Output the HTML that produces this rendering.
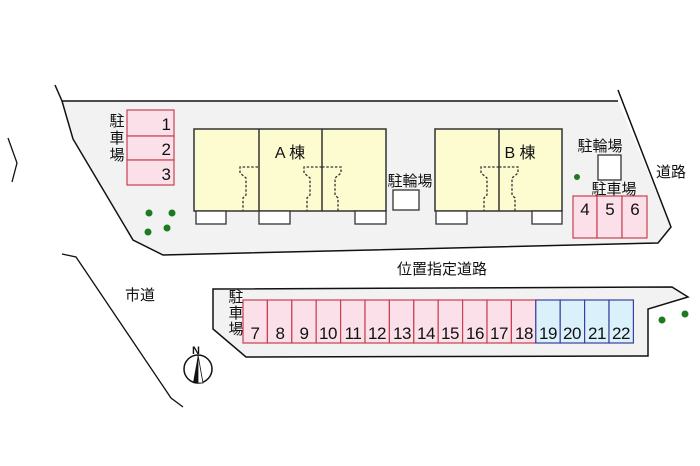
<!DOCTYPE html>
<html><head><meta charset="utf-8"><style>
html,body{margin:0;padding:0;background:#fff;width:700px;height:466px;overflow:hidden}
text{font-family:"Liberation Sans","Noto Sans CJK JP",sans-serif;fill:#111}
</style></head><body>
<svg width="700" height="466" viewBox="0 0 700 466" xmlns="http://www.w3.org/2000/svg">
<polygon points="62,101 618,101 671,227 658,243 163,255 133,240 73,139" fill="#f2f2f2" stroke="none"/>
<polyline points="55,85 62,101 73,139 133,240 163,255 658,243 671,227 618,90" fill="none" stroke="#111" stroke-width="1.5"/>
<line x1="62" y1="101" x2="618" y2="101" stroke="#111" stroke-width="1.5"/>
<polyline points="8,138 17,163 12,182" fill="none" stroke="#111" stroke-width="1.3"/>
<polyline points="62,254 76,257 171,398 183,407" fill="none" stroke="#111" stroke-width="1.3"/>
<g fill="#fbe0ea" stroke="#c8404f" stroke-width="1.2">
<rect x="127" y="110" width="47" height="26"/><rect x="127" y="136" width="47" height="24"/><rect x="127" y="160" width="47" height="25"/>
</g>
<g font-size="17" text-anchor="end"><text x="171" y="130">1</text><text x="171" y="155">2</text><text x="171" y="180">3</text></g>
<g font-size="15" text-anchor="middle"><text x="117" y="126">駐</text><text x="117" y="143">車</text><text x="117" y="160">場</text></g>
<g fill="#1e7a1e"><circle cx="149" cy="213" r="3.5"/><circle cx="172" cy="213" r="3.5"/><circle cx="148" cy="232" r="3.5"/><circle cx="167" cy="228" r="3.5"/><circle cx="577" cy="177" r="3"/><circle cx="662" cy="320" r="3.5"/><circle cx="685" cy="314" r="3.5"/></g>
<rect x="194" y="129" width="192" height="82" fill="#fdfbd0" stroke="#333" stroke-width="1.5"/>
<line x1="259" y1="129" x2="259" y2="211" stroke="#333" stroke-width="1.5"/>
<line x1="322" y1="129" x2="322" y2="211" stroke="#333" stroke-width="1.5"/>
<g fill="#fff" stroke="#333" stroke-width="1.3"><rect x="196" y="211" width="30" height="13"/><rect x="259" y="211" width="31" height="13"/><rect x="355" y="211" width="31" height="13"/></g>
<g fill="none" stroke="#333" stroke-width="1.3" stroke-dasharray="2.5,1.8">
<polyline points="258,167 240,167 240,173 246,178 246,195 243,198 243,211"/>
<polyline points="322,167 304,167 304,173 310,178 310,195 307,198 307,211"/>
<polyline points="322,167 341,167 341,173 335,178 335,195 338,198 338,211"/>
</g>
<text x="290" y="158" font-size="16" text-anchor="middle">A 棟</text>
<text x="410" y="186" font-size="15" text-anchor="middle">駐輪場</text>
<rect x="393" y="190" width="26" height="20" fill="#fff" stroke="#333" stroke-width="1.3"/>
<rect x="435" y="129" width="127" height="82" fill="#fdfbd0" stroke="#333" stroke-width="1.5"/>
<line x1="499" y1="129" x2="499" y2="211" stroke="#333" stroke-width="1.5"/>
<g fill="#fff" stroke="#333" stroke-width="1.3"><rect x="436" y="211" width="31" height="13"/><rect x="532" y="211" width="30" height="13"/></g>
<g fill="none" stroke="#333" stroke-width="1.3" stroke-dasharray="2.5,1.8">
<polyline points="499,167 481,167 481,173 487,178 487,195 484,198 484,211"/>
<polyline points="499,167 518,167 518,173 512,178 512,195 515,198 515,211"/>
</g>
<text x="520" y="158" font-size="16" text-anchor="middle">B 棟</text>
<text x="600" y="151" font-size="15" text-anchor="middle">駐輪場</text>
<rect x="598" y="155" width="23" height="25" fill="#fff" stroke="#333" stroke-width="1.3"/>
<text x="614" y="194" font-size="15" text-anchor="middle">駐車場</text>
<g fill="#fbe0ea" stroke="#c8404f" stroke-width="1.2"><rect x="573" y="196" width="24" height="42"/><rect x="597" y="196" width="25" height="42"/><rect x="622" y="196" width="25" height="42"/></g>
<g font-size="17" text-anchor="middle"><text x="585" y="215">4</text><text x="610" y="215">5</text><text x="635" y="215">6</text></g>
<text x="671" y="177" font-size="15" text-anchor="middle">道路</text>
<text x="140" y="300" font-size="15" text-anchor="middle">市道</text>
<text x="442" y="274" font-size="15" text-anchor="middle">位置指定道路</text>
<polygon points="213,289 672,287 688,297 648,309 648,356 246,357 213,329" fill="#f2f2f2" stroke="#111" stroke-width="1.5"/>
<g font-size="15" text-anchor="middle"><text x="236" y="302">駐</text><text x="236" y="318">車</text><text x="236" y="334">場</text></g>
<g stroke-width="1.2">
<rect x="243" y="300" width="24.4" height="43" fill="#fbe0ea" stroke="#c8404f"/>
<rect x="267.4" y="300" width="24.4" height="43" fill="#fbe0ea" stroke="#c8404f"/>
<rect x="291.8" y="300" width="24.4" height="43" fill="#fbe0ea" stroke="#c8404f"/>
<rect x="316.2" y="300" width="24.4" height="43" fill="#fbe0ea" stroke="#c8404f"/>
<rect x="340.6" y="300" width="24.4" height="43" fill="#fbe0ea" stroke="#c8404f"/>
<rect x="365" y="300" width="24.4" height="43" fill="#fbe0ea" stroke="#c8404f"/>
<rect x="389.4" y="300" width="24.4" height="43" fill="#fbe0ea" stroke="#c8404f"/>
<rect x="413.8" y="300" width="24.4" height="43" fill="#fbe0ea" stroke="#c8404f"/>
<rect x="438.2" y="300" width="24.4" height="43" fill="#fbe0ea" stroke="#c8404f"/>
<rect x="462.6" y="300" width="24.4" height="43" fill="#fbe0ea" stroke="#c8404f"/>
<rect x="487" y="300" width="24.4" height="43" fill="#fbe0ea" stroke="#c8404f"/>
<rect x="511.4" y="300" width="24.4" height="43" fill="#fbe0ea" stroke="#c8404f"/>
<rect x="535.8" y="300" width="24.4" height="43" fill="#daf0fa" stroke="#3a40a0"/>
<rect x="560.2" y="300" width="24.4" height="43" fill="#daf0fa" stroke="#3a40a0"/>
<rect x="584.6" y="300" width="24.4" height="43" fill="#daf0fa" stroke="#3a40a0"/>
<rect x="609" y="300" width="24.4" height="43" fill="#daf0fa" stroke="#3a40a0"/>
</g>
<g font-size="17" text-anchor="middle" letter-spacing="-0.5">
<text x="255" y="339">7</text><text x="280" y="339">8</text><text x="304" y="339">9</text><text x="328" y="339">10</text><text x="353" y="339">11</text><text x="377" y="339">12</text><text x="402" y="339">13</text><text x="426" y="339">14</text><text x="450" y="339">15</text><text x="475" y="339">16</text><text x="499" y="339">17</text><text x="524" y="339">18</text><text x="548" y="339">19</text><text x="572" y="339">20</text><text x="597" y="339">21</text><text x="621" y="339">22</text>
</g>
<circle cx="198" cy="369" r="14" fill="#fff" stroke="#111" stroke-width="1.5"/>
<polygon points="198,355 193,383 203,383" fill="#111"/>
<polygon points="198,355 203,383 198,383" fill="#fff" stroke="#111" stroke-width="0.8"/>
<text x="196" y="354" font-size="11" font-weight="bold" text-anchor="middle">N</text>
</svg>
</body></html>
